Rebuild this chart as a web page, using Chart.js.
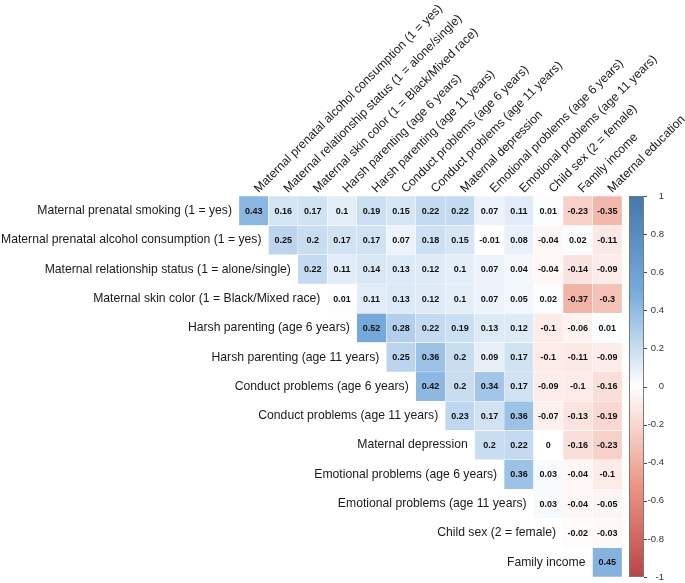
<!DOCTYPE html>
<html>
<head>
<meta charset="utf-8">
<script src="https://cdn.jsdelivr.net/npm/chart.js@4.4.1/dist/chart.umd.min.js"></script>
<style>
  html, body { margin: 0; padding: 0; background: #fff; }
  #wrap { width: 685px; height: 583px; }
</style>
</head>
<body>
<div id="wrap"><canvas id="corrCanvas" width="685" height="583"></canvas></div>
<script>
// row labels (left) and column labels (top)
const rowLabels = [
    'Maternal prenatal smoking (1 = yes)',
    'Maternal prenatal alcohol consumption (1 = yes)',
    'Maternal relationship status (1 = alone/single)',
    'Maternal skin color (1 = Black/Mixed race)',
    'Harsh parenting (age 6 years)',
    'Harsh parenting (age 11 years)',
    'Conduct problems (age 6 years)',
    'Conduct problems (age 11 years)',
    'Maternal depression',
    'Emotional problems (age 6 years)',
    'Emotional problems (age 11 years)',
    'Child sex (2 = female)',
    'Family income'
];
const colLabels = [
    'Maternal prenatal alcohol consumption (1 = yes)',
    'Maternal relationship status (1 = alone/single)',
    'Maternal skin color (1 = Black/Mixed race)',
    'Harsh parenting (age 6 years)',
    'Harsh parenting (age 11 years)',
    'Conduct problems (age 6 years)',
    'Conduct problems (age 11 years)',
    'Maternal depression',
    'Emotional problems (age 6 years)',
    'Emotional problems (age 11 years)',
    'Child sex (2 = female)',
    'Family income',
    'Maternal education'
];

// correlations, upper triangle, one row each
const smokingRow = [0.43, 0.16, 0.17, 0.1, 0.19, 0.15, 0.22, 0.22, 0.07, 0.11, 0.01, -0.23, -0.35];
const alcoholRow = [0.25, 0.2, 0.17, 0.17, 0.07, 0.18, 0.15, -0.01, 0.08, -0.04, 0.02, -0.11];
const relationshipRow = [0.22, 0.11, 0.14, 0.13, 0.12, 0.1, 0.07, 0.04, -0.04, -0.14, -0.09];
const skinRow = [0.01, 0.11, 0.13, 0.12, 0.1, 0.07, 0.05, 0.02, -0.37, -0.3];
const harsh6Row = [0.52, 0.28, 0.22, 0.19, 0.13, 0.12, -0.1, -0.06, 0.01];
const harsh11Row = [0.25, 0.36, 0.2, 0.09, 0.17, -0.1, -0.11, -0.09];
const conduct6Row = [0.42, 0.2, 0.34, 0.17, -0.09, -0.1, -0.16];
const conduct11Row = [0.23, 0.17, 0.36, -0.07, -0.13, -0.19];
const depressionRow = [0.2, 0.22, 0, -0.16, -0.23];
const emotional6Row = [0.36, 0.03, -0.04, -0.1];
const emotional11Row = [0.03, -0.04, -0.05];
const childSexRow = [-0.02, -0.03];
const incomeRow = [0.45];

const corrRows = [smokingRow, alcoholRow, relationshipRow, skinRow, harsh6Row, harsh11Row,
    conduct6Row, conduct11Row, depressionRow, emotional6Row, emotional11Row, childSexRow, incomeRow];

// colour bar
const colorStops = [-1, -0.5, 0, 0.5, 1];
const stopColors = ['#BB4444', '#EE9988', '#FFFFFF', '#77AADD', '#4477AA'];
const barTicks = [1, 0.8, 0.6, 0.4, 0.2, 0, -0.2, -0.4, -0.6, -0.8, -1];

const FONT = '"Liberation Sans", Arial, sans-serif';

function hexToRgb(h) {
    return [parseInt(h.substr(1, 2), 16), parseInt(h.substr(3, 2), 16), parseInt(h.substr(5, 2), 16)];
}

function corrColor(v) {
    for (let k = 0; k < colorStops.length - 1; k++) {
        if (v <= colorStops[k + 1]) {
            const t = (v - colorStops[k]) / (colorStops[k + 1] - colorStops[k]);
            const a = hexToRgb(stopColors[k]);
            const b = hexToRgb(stopColors[k + 1]);
            const c = a.map((x, n) => Math.round(x + (b[n] - x) * t));
            return 'rgb(' + c.join(',') + ')';
        }
    }
    return stopColors[stopColors.length - 1];
}

// one floating-bar dataset per row, each cell spans [row, row + 1]
const datasets = corrRows.map((vals, i) => ({
    label: rowLabels[i],
    data: colLabels.map((c, j) => (j >= i ? [i, i + 1] : null)),
    backgroundColor: colLabels.map((c, j) => (j >= i ? corrColor(vals[j - i]) : 'rgba(0,0,0,0)')),
    borderColor: '#ffffff',
    borderWidth: 0.5,
    borderSkipped: false,
    barPercentage: 1,
    categoryPercentage: 1,
    grouped: false
}));

// value text in each cell
const cellText = {
    id: 'cellText',
    afterDatasetsDraw(chart) {
        const ctx = chart.ctx;
        ctx.save();
        ctx.font = 'bold 9px ' + FONT;
        ctx.fillStyle = '#111';
        ctx.textAlign = 'center';
        ctx.textBaseline = 'middle';
        corrRows.forEach((vals, i) => {
            const meta = chart.getDatasetMeta(i);
            meta.data.forEach((bar, j) => {
                if (j < i) return;
                ctx.fillText(String(vals[j - i]), bar.x, (bar.y + bar.base) / 2 + 0.5);
            });
        });
        ctx.restore();
    }
};

// row names sit just left of each row's first cell (staircase)
const rowText = {
    id: 'rowText',
    afterDraw(chart) {
        const xs = chart.scales.x;
        const ys = chart.scales.y;
        const half = xs.width / colLabels.length / 2;
        const ctx = chart.ctx;
        ctx.save();
        ctx.font = '12.2px ' + FONT;
        ctx.fillStyle = '#1a1a1a';
        ctx.textAlign = 'right';
        ctx.textBaseline = 'middle';
        rowLabels.forEach((lab, i) => {
            ctx.fillText(lab, xs.getPixelForValue(i) - half - 7, ys.getPixelForValue(i + 0.5));
        });
        ctx.restore();
    }
};

const colorBar = {
    id: 'colorBar',
    afterDraw(chart) {
        const s = chart.scales.cb;
        const ctx = chart.ctx;
        const top = s.getPixelForValue(1);
        const bottom = s.getPixelForValue(-1);
        const x0 = s.left + 7;
        const x1 = s.left + 22;
        const g = ctx.createLinearGradient(0, bottom, 0, top);
        colorStops.forEach((v, k) => g.addColorStop((v + 1) / 2, stopColors[k]));
        ctx.save();
        ctx.fillStyle = g;
        ctx.fillRect(x0, top, x1 - x0, bottom - top);
        ctx.strokeStyle = '#7a7a7a';
        ctx.lineWidth = 1;
        ctx.strokeRect(x0 + 0.5, top + 0.5, x1 - x0 - 1, bottom - top - 1);
        ctx.strokeStyle = '#444';
        barTicks.forEach(v => {
            const y = Math.round(s.getPixelForValue(v)) + 0.5;
            ctx.beginPath();
            ctx.moveTo(x1, y);
            ctx.lineTo(x1 + 3, y);
            ctx.stroke();
        });
        ctx.restore();
    }
};

const corrChart = new Chart(document.getElementById('corrCanvas').getContext('2d'), {
    type: 'bar',
    data: { labels: colLabels, datasets: datasets },
    options: {
        responsive: false,
        animation: false,
        layout: { padding: { top: 0, left: 0, right: 21, bottom: 6 } },
        plugins: {
            legend: { display: false },
            tooltip: { enabled: false }
        },
        scales: {
            x: {
                type: 'category',
                position: 'top',
                offset: true,
                grid: { display: false, drawTicks: false },
                border: { display: false },
                ticks: {
                    autoSkip: false,
                    minRotation: 45,
                    maxRotation: 45,
                    padding: 0,
                    labelOffset: 13,
                    color: '#1a1a1a',
                    font: { family: FONT, size: 12.2 }
                },
                afterFit(s) {
                    s.height = 196;
                    s.paddingLeft = 0;
                    s.paddingRight = 0;
                }
            },
            y: {
                type: 'linear',
                position: 'left',
                min: 0,
                max: 13,
                reverse: true,
                grid: { display: false, drawTicks: false },
                border: { display: false },
                ticks: { display: false },
                afterFit(s) {
                    s.width = 239;
                    s.paddingTop = 0;
                    s.paddingBottom = 0;
                }
            },
            cb: {
                type: 'linear',
                position: 'right',
                min: -1,
                max: 1,
                grid: { display: false, drawTicks: false },
                border: { display: false },
                ticks: {
                    autoSkip: false,
                    crossAlign: 'far',
                    padding: 30,
                    color: '#333',
                    font: { family: FONT, size: 9.5 },
                    callback: v => String(Math.round(v * 10) / 10)
                },
                afterBuildTicks(s) {
                    s.ticks = barTicks.map(v => ({ value: v }));
                },
                afterFit(s) {
                    s.width = 42;
                    s.paddingTop = 0;
                    s.paddingBottom = 0;
                }
            }
        }
    },
    plugins: [cellText, rowText, colorBar]
});
</script>
</body>
</html>
